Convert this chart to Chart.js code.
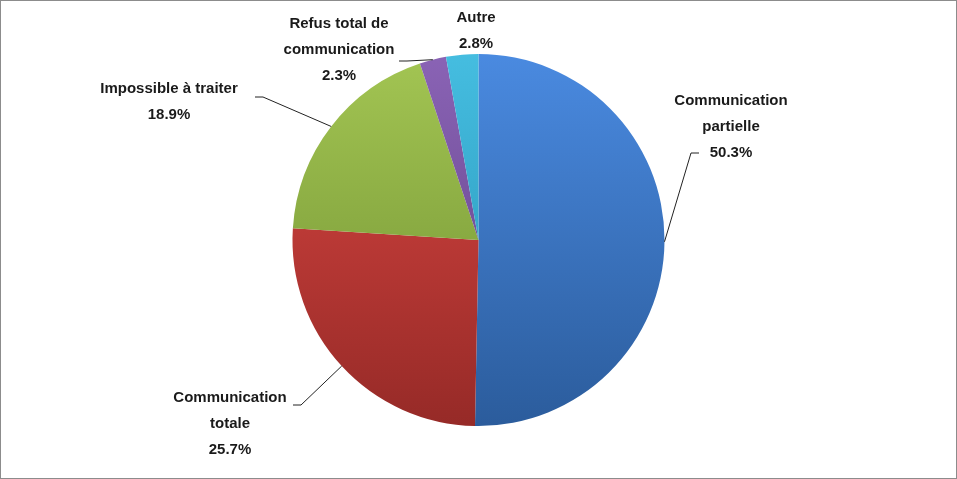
<!DOCTYPE html>
<html>
<head>
<meta charset="utf-8">
<script src="https://cdn.jsdelivr.net/npm/chart.js@4"></script>
<style>
  body { margin: 0; background: #fff; }
  #wrap { position: relative; width: 955px; height: 477px; border: 1px solid #8c8c8c; }
</style>
</head>
<body>
<div id="wrap"><canvas id="pieChart"></canvas></div>
<script>
const categories = ['Communication partielle', 'Communication totale', 'Impossible à traiter', 'Refus total de communication', 'Autre'];
const values = [50.3, 25.7, 18.9, 2.3, 2.8];
const labelLines = [
  ['Communication', 'partielle', '50.3%'],
  ['Communication', 'totale', '25.7%'],
  ['Impossible à traiter', '18.9%'],
  ['Refus total de', 'communication', '2.3%'],
  ['Autre', '2.8%']
];
// colours: [light, dark]
const colours = [['#4a8ae0', '#2b5c9c'], ['#dc4743', '#962a27'], ['#a3c553', '#6e8e30'], ['#8a63b5', '#5d3f82'], ['#45bde0', '#2590b3']];
// label text centre and leader end point (text layout only)
const labelPos = [
  { x: 730, y: 100, lx: 690, ly: 152 },
  { x: 229, y: 397, lx: 300, ly: 404 },
  { x: 168, y: 88, lx: 262, ly: 96 },
  { x: 338, y: 23, lx: 406, ly: 60 },
  { x: 475, y: 17, lx: null, ly: null }
];

const labelPlugin = {
  id: 'outLabels',
  afterDatasetsDraw(chart) {
    const ctx = chart.ctx;
    const arcs = chart.getDatasetMeta(0).data;
    ctx.save();
    ctx.font = 'bold 15px "Liberation Sans", Arial, sans-serif';
    ctx.fillStyle = '#1a1a1a';
    ctx.textAlign = 'center';
    ctx.textBaseline = 'middle';
    arcs.forEach((arc, i) => {
      const p = labelPos[i];
      if (p.lx !== null) {
        const mid = (arc.startAngle + arc.endAngle) / 2;
        const ex = arc.x + arc.outerRadius * Math.cos(mid);
        const ey = arc.y + arc.outerRadius * Math.sin(mid);
        ctx.strokeStyle = '#222';
        ctx.lineWidth = 1;
        ctx.beginPath();
        ctx.moveTo(ex, ey);
        ctx.lineTo(p.lx, p.ly);
        const side = p.lx > arc.x ? 1 : -1;
        ctx.lineTo(p.lx + side * 8, p.ly);
        ctx.stroke();
      }
      labelLines[i].forEach((t, j) => ctx.fillText(t, p.x, p.y + j * 26));
    });
    ctx.restore();
  }
};

new Chart(document.getElementById('pieChart'), {
  type: 'pie',
  data: {
    labels: categories,
    datasets: [{
      data: values,
      backgroundColor: function (context) {
        const chart = context.chart;
        const area = chart.chartArea;
        if (!area) return colours[context.dataIndex][0];
        const g = chart.ctx.createLinearGradient(0, area.top, 0, area.bottom);
        g.addColorStop(0, colours[context.dataIndex][0]);
        g.addColorStop(1, colours[context.dataIndex][1]);
        return g;
      },
      borderWidth: 0
    }]
  },
  options: {
    responsive: true,
    maintainAspectRatio: false,
    animation: false,
    layout: { padding: { top: 53, bottom: 52, left: 0, right: 0 } },
    plugins: { legend: { display: false }, tooltip: { enabled: false } }
  },
  plugins: [labelPlugin]
});
</script>
</body>
</html>
